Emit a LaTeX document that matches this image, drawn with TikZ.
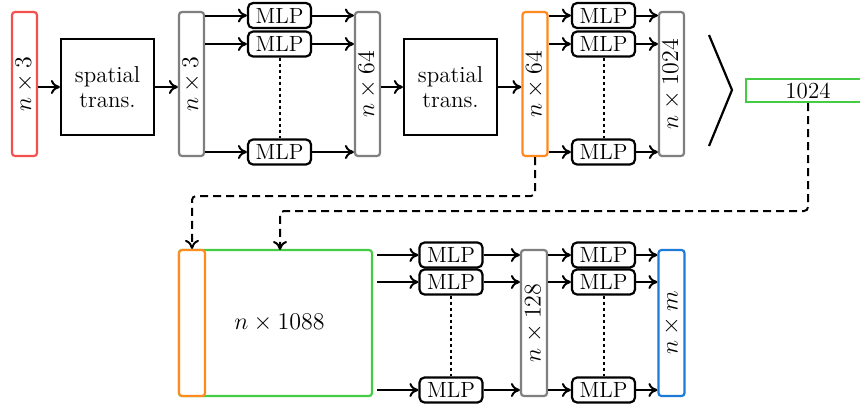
\documentclass[tikz,border=0pt]{standalone}
\usepackage{graphicx}
\usetikzlibrary{arrows.meta,calc}
\definecolor{cred}{HTML}{F45050}
\definecolor{corange}{HTML}{FF8A1E}
\definecolor{cgreen}{HTML}{44CC44}
\definecolor{cblue}{HTML}{1E7AD8}
\definecolor{cgray}{HTML}{7F7F7F}
\begin{document}
\begin{tikzpicture}[x=0.5pt,y=-0.5pt,
  vbox/.style={draw=#1, line width=1.1pt, rounded corners=1.5pt, minimum width=12.5pt, minimum height=72pt, inner sep=0pt, fill=white, font=\fontsize{12}{14}\selectfont},
  tbox/.style={vbox=#1, minimum width=13pt, minimum height=73pt},
  stbox/.style={draw, line width=1.1pt, minimum width=46.5pt, minimum height=48pt, inner sep=0pt, align=center, font=\fontsize{11.5}{12.5}\selectfont},
  mlp/.style={draw, line width=1.1pt, rounded corners=2.5pt, minimum width=31.5pt, minimum height=12.5pt, inner sep=0pt, font=\fontsize{11}{12}\selectfont},
  arr/.style={-{To[length=4.5pt,width=7pt]}, line width=1pt},
  dsh/.style={-{To[length=4.5pt,width=7pt]}, line width=1pt, dash pattern=on 4pt off 2.5pt, rounded corners=2pt},
  dot/.style={line width=1pt, dash pattern=on 1.5pt off 1.5pt}
]
\useasboundingbox (0,0) rectangle (860,403);
% top row
\node[vbox=cred] (in) at (24.5,84) {\rotatebox{90}{$n\times 3$}};
\node[stbox] (st1) at (107.5,87) {spatial\\trans.};
\node[vbox=cgray] (f1) at (191.5,84) {\rotatebox{90}{$n\times 3$}};
\node[mlp] (a1) at (279.5,15.5) {MLP};
\node[mlp] (a2) at (279.5,44) {MLP};
\node[mlp] (a3) at (279.5,152) {MLP};
\node[vbox=cgray] (f2) at (367.5,84) {\rotatebox{90}{$n\times 64$}};
\node[stbox] (st2) at (450.5,87) {spatial\\trans.};
\node[vbox=corange] (f3) at (535,84) {\rotatebox{90}{$n\times 64$}};
\node[mlp] (b1) at (603.5,15.5) {MLP};
\node[mlp] (b2) at (603.5,44) {MLP};
\node[mlp] (b3) at (603.5,152) {MLP};
\node[vbox=cgray] (f4) at (671.5,84) {\rotatebox{90}{$n\times 1024$}};
\coordinate (t1) at (709,35);
\coordinate (t2) at (732,90);
\coordinate (t3) at (709,146);
\draw[line width=1.1pt] (t1) -- (t2) -- (t3);
\node[draw=cgreen, line width=1.1pt, minimum width=62pt, minimum height=11.5pt, inner sep=0pt, font=\fontsize{11.5}{13}\selectfont] (g) at (808,90.5) {1024};
% bottom row
\node[draw=cgreen, line width=1.1pt, rounded corners=1.5pt, minimum width=96.5pt, minimum height=73pt, inner sep=0pt, font=\fontsize{12.5}{14}\selectfont] (big) at (275.5,323) {\hspace{4pt}$n\times 1088$};
\node[tbox=corange, fill=white] (cat) at (192,323) {};
\node[mlp] (c1) at (451,255) {MLP};
\node[mlp] (c2) at (451,282) {MLP};
\node[mlp] (c3) at (451,390) {MLP};
\node[tbox=cgray] (f5) at (534,323) {\rotatebox{90}{$n\times 128$}};
\node[mlp] (d1) at (603.5,255) {MLP};
\node[mlp] (d2) at (603.5,282) {MLP};
\node[mlp] (d3) at (603.5,390) {MLP};
\node[tbox=cblue] (out) at (671.5,323) {\rotatebox{90}{$n\times m$}};
% top arrows
\draw[arr] (in.east |- st1) -- (st1);
\draw[arr] (st1) -- (f1.west |- st1);
\foreach \m in {a1,a2,a3}{
  \draw[arr] (f1.east |- \m) -- (\m);
  \draw[arr] (\m) -- (f2.west |- \m);
}
\draw[dot] (a2) -- (a3);
\draw[arr] (f2.east |- st2) -- (st2);
\draw[arr] (st2) -- (f3.west |- st2);
\foreach \m in {b1,b2,b3}{
  \draw[arr] (f3.east |- \m) -- (\m);
  \draw[arr] (\m) -- (f4.west |- \m);
}
\draw[dot] (b2) -- (b3);
% bottom arrows
\foreach \m in {c1,c2,c3}{
  \draw[arr, shorten <=2pt] (big.east |- \m) -- (\m);
  \draw[arr] (\m) -- (f5.west |- \m);
}
\draw[dot] (c2) -- (c3);
\foreach \m in {d1,d2,d3}{
  \draw[arr] (f5.east |- \m) -- (\m);
  \draw[arr] (\m) -- (out.west |- \m);
}
\draw[dot] (d2) -- (d3);
% dashed connectors
\draw[dsh] (f3.south) -- (535,196) -- (192,196) -- (cat.north);
\draw[dsh] (g.south) -- (808,211) -- (280,211) -- (280,250);
\end{tikzpicture}
\end{document}
